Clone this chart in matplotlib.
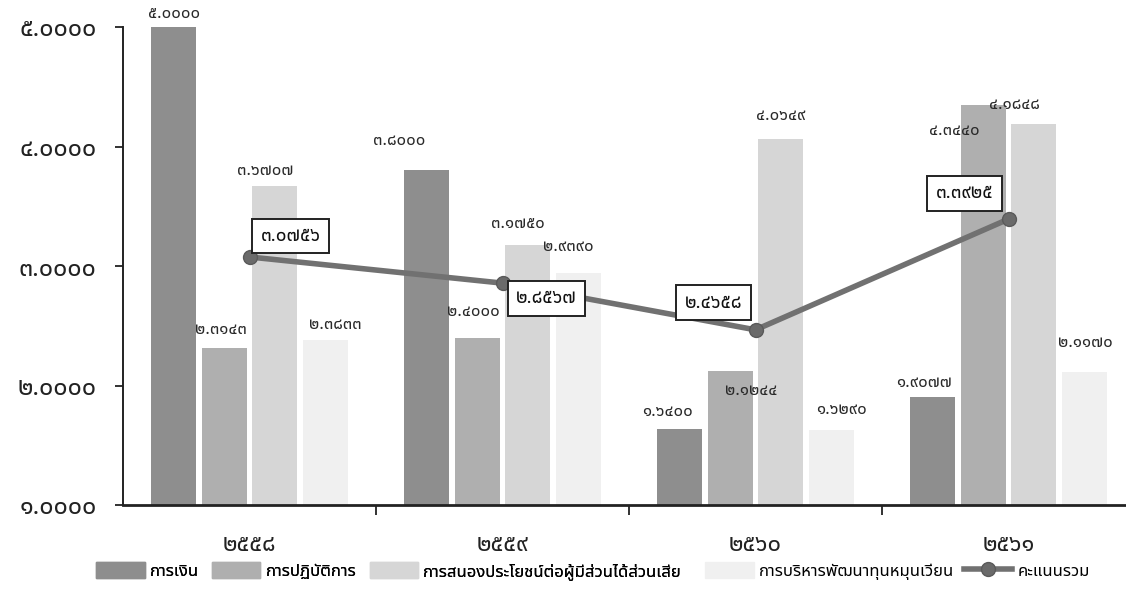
import matplotlib
matplotlib.use("Agg")

import matplotlib.pyplot as plt
import numpy as np
from matplotlib import font_manager
from matplotlib.ft2font import FT2Font
from matplotlib.lines import Line2D
from matplotlib.patches import Patch

years = ["2558", "2559", "2560", "2561"]
series_names = [
    "การเงิน",
    "การปฏิบัติการ",
    "การสนองประโยชน์ต่อผู้มีส่วนได้ส่วนเสีย",
    "การบริหารพัฒนาทุนหมุนเวียน",
]
finance = [5.0000, 3.8000, 1.6400, 1.9077]
operation = [2.3143, 2.4000, 2.1244, 4.3440]
stakeholder = [3.6707, 3.1750, 4.0649, 4.1848]
fund_mgmt = [2.3833, 2.9390, 1.6290, 2.1170]
total_name = "คะแนนรวม"
total = [3.0756, 2.8567, 2.4658, 3.3925]
y_ticks = [1, 2, 3, 4, 5]

THAI_DIGITS = str.maketrans("0123456789", "๐๑๒๓๔๕๖๗๘๙")


def thai(s) -> str:
    return str(s).translate(THAI_DIGITS)


def find_thai_font():
    found = []
    for fe in font_manager.fontManager.ttflist:
        try:
            cmap = FT2Font(fe.fname).get_charmap()
        except Exception:
            continue
        if 0x0E51 in cmap and 0x0E01 in cmap:
            found.append(fe.name)
    for pref in ["Noto Sans Thai", "Noto Sans Thai Looped", "Loma", "Garuda", "Norasi", "Noto Sans"]:
        if pref in found:
            return pref
    return found[0] if found else "DejaVu Sans"


thai_font = find_thai_font()
plt.rcParams["font.family"] = [thai_font, "DejaVu Sans"]

PX = 0.72  # points per pixel at dpi 100

fig = plt.figure(figsize=(11.26, 6.02), dpi=100)
ax = fig.add_axes([123 / 1126, 97 / 602, 1012 / 1126, 478 / 602])

x = np.arange(len(years))
width = 0.178
colors = ["#8e8e8e", "#afafaf", "#d6d6d6", "#f0f0f0"]
all_series = [finance, operation, stakeholder, fund_mgmt]
offsets = [-0.3, -0.1, 0.1, 0.3]

# label nudges (dx, dy) in pixels from the top centre of each bar
nudges = [
    [(0, -13), (-27, -29), (-12, -17), (-9, -14)],
    [(-3, -18), (-4, -26), (21, 20), (-29, 26)],
    [(-10, -15), (-10, -21), (0, -23), (-19, -19)],
    [(10, -15), (-10, -26), (10, -20), (1, -29)],
]

for s, vals in enumerate(all_series):
    ax.bar(x + offsets[s], np.array(vals) - 1, width, bottom=1, color=colors[s], zorder=2)
    for i, v in enumerate(vals):
        dx, dy = nudges[s][i]
        ax.annotate(thai(f"{v:.4f}"), (x[i] + offsets[s], v), xytext=(dx * PX, -dy * PX),
                    textcoords="offset points", ha="center", va="center",
                    fontsize=12, color="#2a2a2a", zorder=5)

ax.plot(x, total, color="#717171", lw=4, marker="o", markersize=10,
        markerfacecolor="#6a6a6a", markeredgecolor="#5a5a5a", zorder=4)

box_nudges = [(41, -21), (44, 15), (-42, -27), (-44, -26)]
for i, v in enumerate(total):
    dx, dy = box_nudges[i]
    ax.annotate(thai(f"{v:.4f}"), (x[i], v), xytext=(dx * PX, -dy * PX),
                textcoords="offset points", ha="center", va="center", fontsize=13.5,
                color="#111111", zorder=6,
                bbox=dict(boxstyle="square,pad=0.45", fc="white", ec="#222222", lw=1.4))

ax.set_ylim(1, 5)
ax.set_xlim(-0.5, len(years) - 0.5)
ax.set_yticks(y_ticks)
ax.set_yticklabels([thai(f"{t:.4f}") for t in y_ticks], fontsize=18, color="#222222")
ax.set_xticks(x + 0.5)
ax.set_xticklabels([])
ax.set_xticks(x, minor=True)
ax.set_xticklabels([thai(y) for y in years], minor=True, fontsize=17, color="#222222")
ax.tick_params(axis="x", which="minor", length=0, pad=20)
ax.tick_params(axis="x", which="major", length=7, width=1.3, color="#222222")
ax.tick_params(axis="y", length=6, width=1.3, color="#222222", pad=13)

for side in ["top", "right"]:
    ax.spines[side].set_visible(False)
ax.spines["left"].set_linewidth(1.4)
ax.spines["bottom"].set_linewidth(2)
ax.spines["left"].set_color("#222222")
ax.spines["bottom"].set_color("#222222")

# legend in two parts so the spacing follows the original
bar_handles = [Patch(color=c) for c in colors]
line_handle = Line2D([0], [0], color="#717171", lw=4, marker="o", markersize=10,
                     markerfacecolor="#6a6a6a", markeredgecolor="#5a5a5a")
leg_kw = dict(loc="center left", frameon=False, fontsize=12, handlelength=2.9,
              handleheight=1.1, handletextpad=0.3, borderpad=0)
leg1 = fig.legend(bar_handles[:3], series_names[:3], ncol=3, columnspacing=0.8,
                  bbox_to_anchor=(88 / 1126, 1 - 571 / 602), **leg_kw)
fig.add_artist(leg1)
fig.legend([bar_handles[3], line_handle], [series_names[3], total_name], ncol=2,
           columnspacing=0.6, bbox_to_anchor=(697 / 1126, 1 - 571 / 602), **leg_kw)

fig.savefig("out.png", dpi=100)
